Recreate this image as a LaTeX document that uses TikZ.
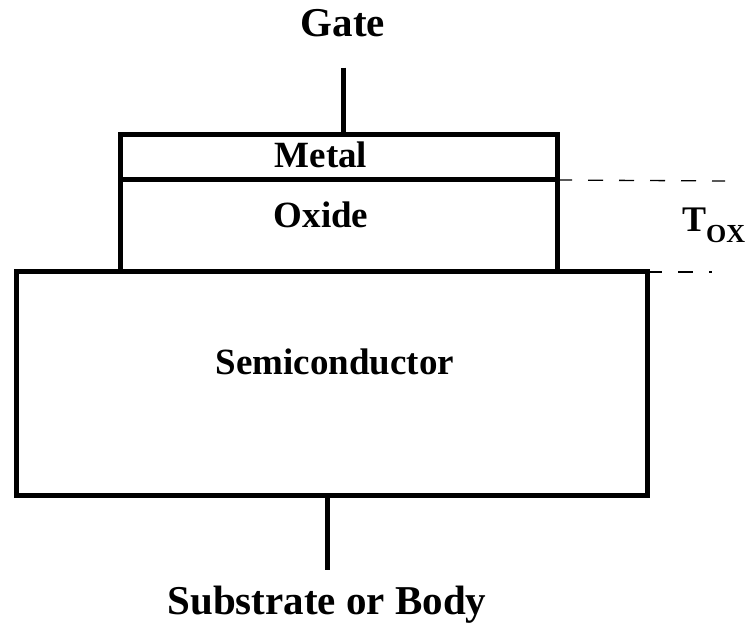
\documentclass[tikz,border=0pt]{standalone}
\usepackage{fontspec}
\setmainfont{Liberation Serif}
\usetikzlibrary{positioning}

\begin{document}
\begin{tikzpicture}[
    x=1pt, y=1pt,
    layer/.style={rectangle, draw=black, line width=5pt, inner sep=0pt,
                  outer sep=0pt},
    wire/.style={line width=5pt},
    dim/.style={line width=1.3pt, dash pattern=on 15pt off 16pt},
    lbl/.style={inner sep=0pt, anchor=base, font=\bfseries\fontsize{37}{40}\selectfont},
    term/.style={lbl, font=\bfseries\fontsize{41}{44}\selectfont}
  ]
    \useasboundingbox (0,0) rectangle (748,627);

    % Stack
    \node[layer, minimum width=631pt, minimum height=224pt] (semi) at (331.5,243) {};
    \node[layer, minimum width=437pt, minimum height=92pt] (oxide) at (338.5,401) {};
    \node[layer, minimum width=437pt, minimum height=45pt, above=0pt of oxide] (metal) {};

    % Layer names
    \node[lbl] (metaltxt) at (321,459) {Metal};
    \node[lbl] (oxidetxt) at (321,399) {Oxide};
    \node[lbl] (semitxt)  at (335,252) {Semiconductor};

    % Terminals
    \node[term] (gate) at (343,590) {Gate};
    \node[term] (body) at (327,12)  {Substrate or Body};
    \draw[wire, shorten <=30pt] (gate.south) -- (gate.south |- metal.north);
    \draw[wire, shorten >=16pt] (semi.south -| body.north) -- (body.north);

    % Oxide thickness
    \coordinate (toxtop) at (725,446);
    \coordinate (toxbot) at (712,355);
    \draw[dim] (oxide.north east) -- (toxtop);
    \draw[dim] (semi.north east) -- (toxbot);
    \node[lbl, anchor=base west, font=\bfseries\fontsize{36}{40}\selectfont] (tox) at (682,395)
      {T\raisebox{-11pt}{\fontsize{26}{28}\selectfont OX}};

\end{tikzpicture}
\end{document}
